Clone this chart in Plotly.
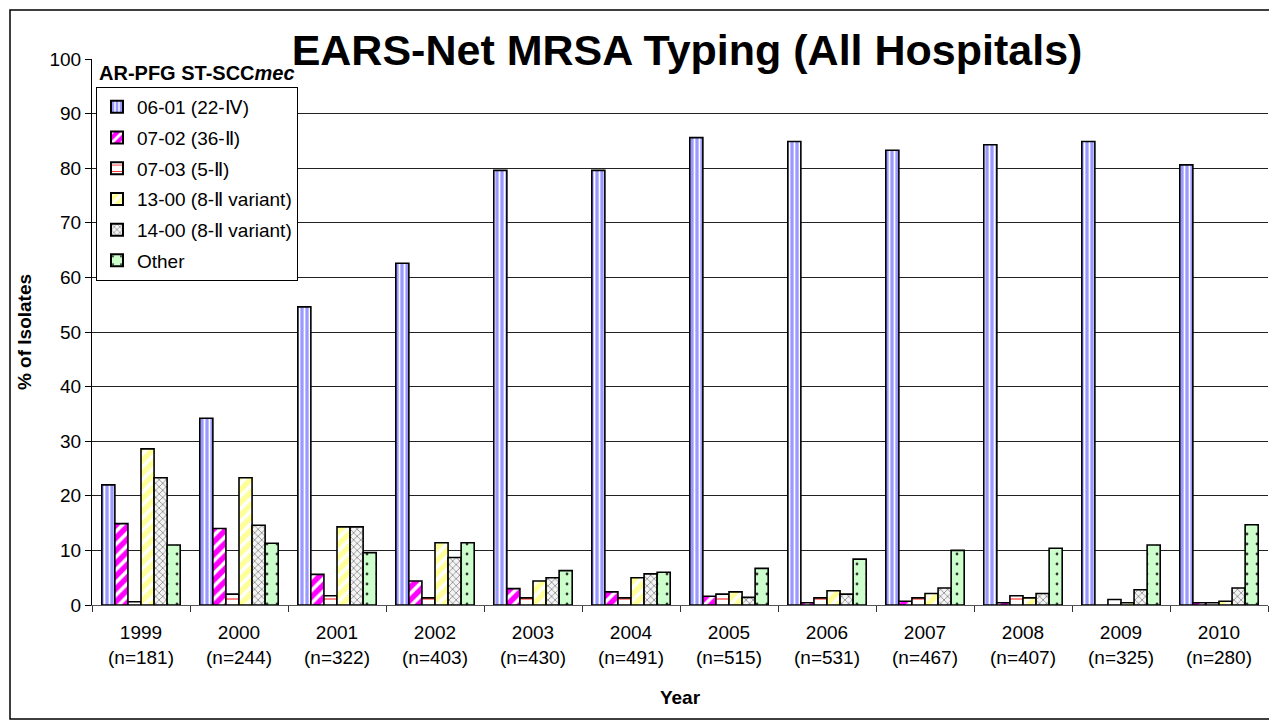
import plotly.graph_objects as go

years = ["1999", "2000", "2001", "2002", "2003", "2004", "2005", "2006", "2007", "2008", "2009", "2010"]
n_isolates = [181, 244, 322, 403, 430, 491, 515, 531, 467, 407, 325, 280]

series_names = ["06-01 (22-Ⅳ)", "07-02 (36-Ⅱ)", "07-03 (5-Ⅱ)", "13-00 (8-Ⅱ variant)", "14-00 (8-Ⅱ variant)", "Other"]
s_0601 = [22.0, 34.2, 54.6, 62.6, 79.6, 79.6, 85.6, 84.9, 83.3, 84.3, 84.9, 80.6]
s_0702 = [14.9, 14.0, 5.6, 4.4, 3.0, 2.4, 1.6, 0.4, 0.7, 0.4, 0.0, 0.4]
s_0703 = [0.6, 2.0, 1.7, 1.3, 1.3, 1.3, 2.0, 1.3, 1.3, 1.7, 1.0, 0.4]
s_1300 = [28.6, 23.3, 14.3, 11.4, 4.4, 5.0, 2.4, 2.6, 2.1, 1.3, 0.4, 0.7]
s_1400 = [23.3, 14.6, 14.3, 8.7, 5.0, 5.7, 1.4, 2.0, 3.1, 2.1, 2.8, 3.1]
s_other = [11.0, 11.3, 9.6, 11.4, 6.3, 6.0, 6.7, 8.4, 10.0, 10.4, 11.0, 14.7]

all_series = [s_0601, s_0702, s_0703, s_1300, s_1400, s_other]

styles = [
    dict(bg="#9999FF", fg="#FFFFFF", shape="|", size=5, solidity=0.35),
    dict(bg="#FF00FF", fg="#FFFFFF", shape="/", size=9, solidity=0.4),
    dict(bg="#FFFFFF", fg="#FF3333", shape="-", size=8, solidity=0.15),
    dict(bg="#FFFF99", fg="#FFFFFF", shape="/", size=9, solidity=0.4),
    dict(bg="#F4F4F4", fg="#8C8C8C", shape="x", size=5, solidity=0.3),
    dict(bg="#CCFFCC", fg="#333333", shape=".", size=10, solidity=0.06),
]

x_labels = [f"{y}<br>(n={n})" for y, n in zip(years, n_isolates)]

fig = go.Figure()
for name, vals, st in zip(series_names, all_series, styles):
    fig.add_trace(go.Bar(
        x=x_labels, y=vals, name=name, legendgroup=name,
        marker=dict(
            color=st["bg"],
            line=dict(color="#000000", width=1.6),
            pattern=dict(shape=st["shape"], bgcolor=st["bg"], fgcolor=st["fg"],
                         size=st["size"], solidity=st["solidity"], fillmode="replace"),
        ),
    ))

FONT = "Liberation Sans, Arial, sans-serif"

# page body has an 8px margin; work in screen pixels and shift
OFF = 8
W, H = 1277 - OFF, 724 - OFF
SL, SR, ST, SB = 92, 1268, 59, 605   # plot area in screen pixels
L = SL - OFF
T = ST - OFF
R = W - (SR - OFF)
B = H - (SB - OFF)
pw = SR - SL
ph = SB - ST

def px_x(p):
    return (p - SL) / pw

def px_y(p):
    return (SB - p) / ph

fig.update_layout(
    width=W, height=H,
    margin=dict(l=L, r=R, t=T, b=B, pad=0),
    paper_bgcolor="white", plot_bgcolor="white",
    font=dict(family=FONT, size=19, color="#000000"),
    barmode="group", bargap=0.2, bargroupgap=0.0,
    title=dict(text="<b>EARS-Net MRSA Typing (All Hospitals)</b>",
               font=dict(family=FONT, size=43, color="#000000"),
               x=px_x(687), xref="paper", xanchor="center",
               y=1 - (50 - OFF) / H, yref="container", yanchor="middle"),
    showlegend=True,
    legend=dict(x=px_x(96), y=px_y(87), xanchor="left", yanchor="top",
                bgcolor="white", bordercolor="#000000", borderwidth=1,
                font=dict(family=FONT, size=19, color="#000000"),
                tracegroupgap=3, itemsizing="constant"),
    xaxis=dict(type="category", showgrid=False, ticks="outside", tickson="boundaries",
               ticklen=6, tickcolor="#333333", showline=True, linecolor="#555555", linewidth=1,
               tickfont=dict(family=FONT, size=19), ticklabelstandoff=10,
               title=dict(text="<b>Year</b>", font=dict(family=FONT, size=19), standoff=24)),
    yaxis=dict(range=[0, 100], dtick=10, tick0=0, showgrid=True, gridcolor="#222222", gridwidth=1,
               ticks="outside", ticklen=6, tickcolor="#000000",
               showline=True, linecolor="#000000", linewidth=1, zeroline=False,
               tickfont=dict(family=FONT, size=19),
               title=dict(text="<b>% of Isolates</b>", font=dict(family=FONT, size=19), standoff=12)),
)

fig.add_annotation(text="<b>AR-PFG ST-SCC<i>mec</i></b>", xref="paper", yref="paper",
                   x=px_x(97), y=px_y(73), xanchor="left", yanchor="middle",
                   showarrow=False, font=dict(family=FONT, size=20, color="#000000"))

fig.add_shape(type="rect", xref="paper", yref="paper",
              x0=px_x(10), x1=px_x(1272), y0=px_y(719), y1=px_y(10),
              line=dict(color="#000000", width=1.5), fillcolor="rgba(0,0,0,0)", layer="above")

fig.write_html("out.html")
